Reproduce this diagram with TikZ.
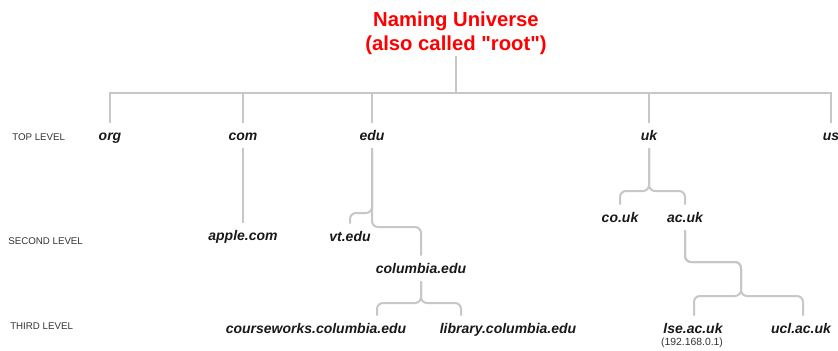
\documentclass[tikz,border=0pt]{standalone}
\usepackage{fontspec}
\setmainfont{Liberation Sans}
\begin{document}
\begin{tikzpicture}[x=0.75pt,y=-0.75pt,
  conn/.style={draw=black!22,line width=1.5pt},
  dom/.style={font=\fontsize{10.5}{12}\selectfont\bfseries\itshape,text=black!90,
    text height=10pt,text depth=2pt,inner xsep=1pt,inner ysep=3.5pt},
  lvl/.style={font=\fontsize{7.3}{9}\selectfont,text=black!80,anchor=west,inner sep=0pt},
  ttl/.style={font=\fontsize{15.2}{18}\selectfont\bfseries,text=red,align=center,inner sep=1pt},
  ipaddr/.style={font=\fontsize{7.8}{9}\selectfont,text=black!80,inner sep=0pt}]
\clip (0,0) rectangle (838,350);
\fill[white] (0,0) rectangle (838,350);

% title
\node[ttl] (root) at (456,33) {Naming Universe\\(also called \textquotedbl root\textquotedbl)};

% level labels
\node[lvl] (l1) at (12,137) {TOP LEVEL};
\node[lvl] (l2) at (8,241) {SECOND LEVEL};
\node[lvl] (l3) at (10,326) {THIRD LEVEL};

% top level
\node[dom] (org) at (110,135.5) {org};
\node[dom] (com) at (243,135.5) {com};
\node[dom] (edu) at (372,135.5) {edu};
\node[dom] (uk)  at (649,135.5) {uk};
\node[dom] (us)  at (831,135.5) {us};

% second level
\node[dom] (apple) at (243,235.5) {apple.com};
\node[dom] (vt)    at (350,236.5) {vt.edu};
\node[dom] (columbia) at (421,268.5) {columbia.edu};
\node[dom] (couk)  at (620,217.5) {co.uk};
\node[dom] (acuk)  at (685,217.5) {ac.uk};

% third level
\node[dom] (cw)  at (316,328.5) {courseworks.columbia.edu};
\node[dom] (lib) at (508,328.5) {library.columbia.edu};
\node[dom] (lse) at (693,328.5) {lse.ac.uk};
\node[ipaddr] (ip) at (692,343) {(192.168.0.1)};
\node[dom] (ucl) at (801,328.5) {ucl.ac.uk};

% helper coordinates
\coordinate (bar) at (0,93);
\coordinate (armCw) at (377,0);
\coordinate (armLib) at (461,0);
\coordinate (armLse) at (694,0);
\coordinate (armUcl) at (803,0);
\coordinate (jAc) at (741,296);

% root to top level
\draw[conn] (root.south) -- (root.south |- bar);
\draw[conn] (org.north) -- (org.north |- bar) -- (us.north |- bar) -- (us.north);
\draw[conn] (com.north) -- (com.north |- bar);
\draw[conn] (edu.north) -- (edu.north |- bar);
\draw[conn] (uk.north) -- (uk.north |- bar);

% com
\draw[conn] (com.south) -- (apple.north);

% edu
\draw[conn,rounded corners=4.5pt] (edu.south) -- (edu.south |- 0,213) -| (vt.north);
\draw[conn,rounded corners=4.5pt] (edu.south) -- (edu.south |- 0,227) -| (columbia.north);

% columbia
\draw[conn,rounded corners=4.5pt] (columbia.south) -- (columbia.south |- 0,303) -| (cw.north -| armCw);
\draw[conn,rounded corners=4.5pt] (columbia.south) -- (columbia.south |- 0,303) -| (lib.north -| armLib);

% uk
\draw[conn,rounded corners=4.5pt] (uk.south) -- (uk.south |- 0,191) -| (couk.north);
\draw[conn,rounded corners=4.5pt] (uk.south) -- (uk.south |- 0,191) -| (acuk.north);

% ac.uk
\draw[conn,rounded corners=4.5pt] (acuk.south) -- (acuk.south |- 0,262) -| (jAc) -| (lse.north -| armLse);
\draw[conn,rounded corners=4.5pt] (acuk.south) -- (acuk.south |- 0,262) -| (jAc) -| (ucl.north -| armUcl);
\end{tikzpicture}
\end{document}
